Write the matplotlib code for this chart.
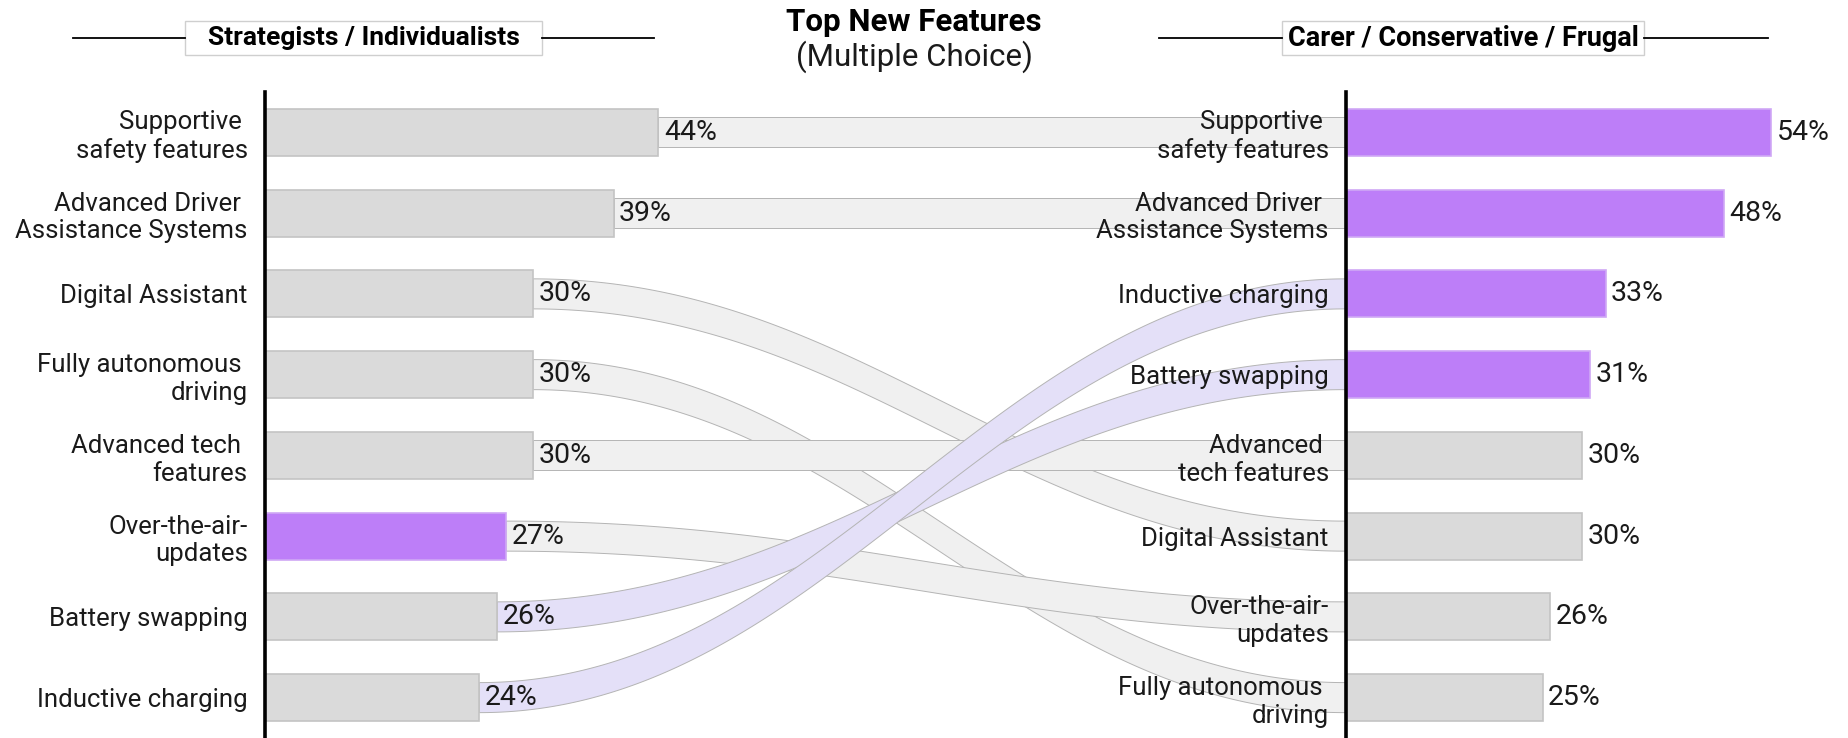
import numpy as np
import matplotlib
matplotlib.use("Agg")
import matplotlib.pyplot as plt
from matplotlib.patches import Polygon, Rectangle
from matplotlib.lines import Line2D

plt.rcParams['font.family'] = ['Roboto', 'DejaVu Sans']

# ---- data -------------------------------------------------------------
left_title = "Strategists / Individualists"
right_title = "Carer / Conservative / Frugal"
chart_title = "Top New Features"
chart_subtitle = "(Multiple Choice)"

left_features = ["Supportive safety features", "Advanced Driver Assistance Systems",
                 "Digital Assistant", "Fully autonomous driving", "Advanced tech features",
                 "Over-the-air-updates", "Battery swapping", "Inductive charging"]
left_labels = ["Supportive \nsafety features", "Advanced Driver \nAssistance Systems",
               "Digital Assistant", "Fully autonomous \ndriving", "Advanced tech \nfeatures",
               "Over-the-air-\nupdates", "Battery swapping", "Inductive charging"]
left_values = [44, 39, 30, 30, 30, 27, 26, 24]

right_features = ["Supportive safety features", "Advanced Driver Assistance Systems",
                  "Inductive charging", "Battery swapping", "Advanced tech features",
                  "Digital Assistant", "Over-the-air-updates", "Fully autonomous driving"]
right_labels = ["Supportive \nsafety features", "Advanced Driver \nAssistance Systems",
                "Inductive charging", "Battery swapping", "Advanced \ntech features",
                "Digital Assistant", "Over-the-air-\nupdates", "Fully autonomous \ndriving"]
right_values = [54, 48, 33, 31, 30, 30, 26, 25]

left_highlight = ["Over-the-air-updates"]
right_highlight = ["Supportive safety features", "Advanced Driver Assistance Systems",
                   "Inductive charging", "Battery swapping"]
rising_features = ["Battery swapping", "Inductive charging"]

# ---- style ------------------------------------------------------------
GREY = "#dadada"
GREY_EDGE = "#c4c4c4"
PURPLE = "#bd7ef8"
PURPLE_EDGE = "#cfa8f5"
RIBBON = "#f0f0f0"
RIBBON_RISE = "#e4e0f8"
RIBBON_EDGE = "#b4b4b4"
LABEL_SIZE = 18.5
VALUE_SIZE = 20.5

W, H = 1848, 738
fig = plt.figure(figsize=(W / 100, H / 100), dpi=100)
fig.patch.set_facecolor("white")

# full-figure overlay in pixel units for the connecting ribbons
axF = fig.add_axes([0, 0, 1, 1], zorder=0)
axF.set_xlim(0, W)
axF.set_ylim(0, H)
axF.axis("off")

axL = fig.add_axes([264.5 / W, 0, 447.5 / W, 646 / H], zorder=2)
axR = fig.add_axes([1345.5 / W, 0, 472.8 / W, 646 / H], zorder=2)
axL.set_xlim(0, 50)
axR.set_xlim(0, 60)

BAR_H = 0.58
RIB_H = 0.372


def setup_panel(ax, labels, values, features, highlight):
    n = len(values)
    y = np.arange(n)
    colors = [PURPLE if f in highlight else GREY for f in features]
    edges = [PURPLE_EDGE if f in highlight else GREY_EDGE for f in features]
    ax.barh(y, values, height=BAR_H, color=colors, edgecolor=edges, linewidth=1.2, zorder=2)
    for yi, v in zip(y, values):
        ax.annotate(f"{v}%", (v, yi), xytext=(4, 0), textcoords="offset points",
                    ha="left", va="center", fontsize=VALUE_SIZE, color="#1a1a1a", zorder=3)
    ax.set_ylim(n - 0.5, -0.5)
    ax.set_yticks(y)
    ax.set_yticklabels(labels, fontsize=LABEL_SIZE, color="#1a1a1a", ha="right")
    ax.tick_params(axis="y", length=0, pad=12)
    ax.set_xticks([])
    for s in ("top", "right", "bottom"):
        ax.spines[s].set_visible(False)
    ax.spines["left"].set_linewidth(2.6)
    ax.spines["left"].set_color("black")
    ax.spines["left"].set_zorder(4)
    ax.patch.set_alpha(0)


setup_panel(axL, left_labels, left_values, left_features, left_highlight)
setup_panel(axR, right_labels, right_values, right_features, right_highlight)

# ---- ribbons linking each feature's rank on both sides -------------------
to_px = axF.transData.inverted()


def ribbon(feature):
    i = left_features.index(feature)
    j = right_features.index(feature)
    x0, y0 = to_px.transform(axL.transData.transform((left_values[i], i)))
    x1, y1 = to_px.transform(axR.transData.transform((0, j)))
    _, ytop = to_px.transform(axL.transData.transform((0, i - RIB_H / 2)))
    half = abs(ytop - y0)
    t = np.linspace(0, 1, 240)
    c1 = x0 + (x1 - x0) * 0.4
    c2 = x0 + (x1 - x0) * 0.6
    bx = (1 - t) ** 3 * x0 + 3 * (1 - t) ** 2 * t * c1 + 3 * (1 - t) * t ** 2 * c2 + t ** 3 * x1
    by = (1 - t) ** 3 * y0 + 3 * (1 - t) ** 2 * t * y0 + 3 * (1 - t) * t ** 2 * y1 + t ** 3 * y1
    top = np.column_stack([bx, by + half])
    bot = np.column_stack([bx[::-1], by[::-1] - half])
    face = RIBBON_RISE if feature in rising_features else RIBBON
    axF.add_patch(Polygon(np.vstack([top, bot]), closed=True, facecolor=face,
                          edgecolor=RIBBON_EDGE, linewidth=0.7,
                          zorder=2 if feature in rising_features else 1))


for f in left_features:
    ribbon(f)

# ---- titles and group headers -------------------------------------------
fig.text(914 / W, 1 - 22 / H, chart_title, ha="center", va="center",
         fontsize=22.5, fontweight="bold", color="black")
fig.text(914 / W, 1 - 57 / H, chart_subtitle, ha="center", va="center",
         fontsize=22.5, color="#1a1a1a")


def header(text, size, x_left, x_right, box_left, box_right, y=38, box_h=34):
    yy = 1 - y / H
    fig.add_artist(Line2D([x_left / W, box_left / W], [yy, yy], color="black", lw=1.3))
    fig.add_artist(Line2D([box_right / W, x_right / W], [yy, yy], color="black", lw=1.3))
    fig.add_artist(Rectangle((box_left / W, 1 - (y + box_h / 2) / H),
                             (box_right - box_left) / W, box_h / H,
                             facecolor="white", edgecolor="#cfcfcf", lw=1,
                             transform=fig.transFigure))
    fig.text((box_left + box_right) / 2 / W, yy, text, ha="center", va="center",
             fontsize=size, fontweight="bold", color="black")


header(left_title, 19, 73, 654, 185, 542)
header(right_title, 19.5, 1159, 1768, 1282, 1644)

fig.savefig("out.png", dpi=100, facecolor="white")
